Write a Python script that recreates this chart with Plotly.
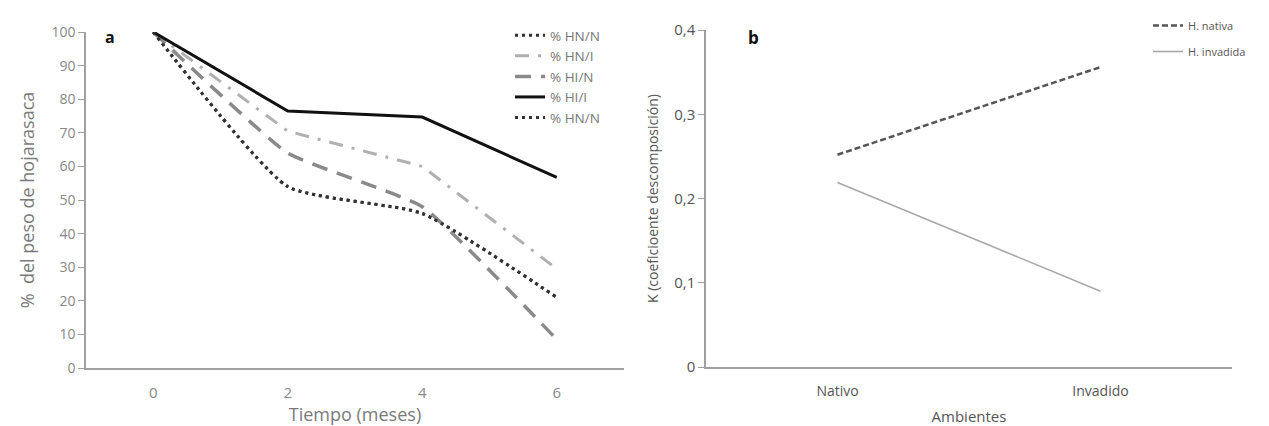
import plotly.graph_objects as go

# ---- data ----
meses = ["0", "2", "4", "6"]
hn_n = [100, 54, 46, 21]
hn_i = [100, 70.5, 60, 29.5]
hi_n = [100, 64, 48, 8.5]
hi_i = [100, 76.5, 74.7, 56.7]
hn_n_dup = [100, 54, 46, 21]

ambientes = ["Nativo", "Invadido"]
k_nativa = [0.252, 0.356]
k_invadida = [0.219, 0.090]

ya_ticks = [0, 10, 20, 30, 40, 50, 60, 70, 80, 90, 100]
yb_tickvals = [0, 0.1, 0.2, 0.3, 0.4]
yb_ticktext = ["0", "0,1", "0,2", "0,3", "0,4"]

FONT = "Open Sans"
W, H = 1269, 426

fig = go.Figure()

# Panel a
fig.add_trace(go.Scatter(x=meses, y=hn_n, name="% HN/N", mode="lines",
                         line=dict(color="#333333", width=3, dash="3px,4px", shape="spline", smoothing=0.5),
                         xaxis="x", yaxis="y", legend="legend"))
fig.add_trace(go.Scatter(x=meses, y=hn_i, name="% HN/I", mode="lines",
                         line=dict(color="#b0b0b0", width=3, dash="14px,9px,3px,9px"),
                         xaxis="x", yaxis="y", legend="legend"))
fig.add_trace(go.Scatter(x=meses, y=hi_n, name="% HI/N", mode="lines",
                         line=dict(color="#8a8a8a", width=3.5, dash="16px,10px", shape="spline", smoothing=0.4),
                         xaxis="x", yaxis="y", legend="legend"))
fig.add_trace(go.Scatter(x=meses, y=hi_i, name="% HI/I", mode="lines",
                         line=dict(color="#111111", width=3),
                         xaxis="x", yaxis="y", legend="legend"))
fig.add_trace(go.Scatter(x=meses, y=hn_n_dup, name="% HN/N", mode="lines",
                         line=dict(color="#333333", width=3, dash="3px,4px", shape="spline", smoothing=0.5),
                         xaxis="x", yaxis="y", legend="legend"))

# Panel b
fig.add_trace(go.Scatter(x=ambientes, y=k_nativa, name="H. nativa", mode="lines",
                         line=dict(color="#555555", width=2.5, dash="6px,3px"),
                         xaxis="x2", yaxis="y2", legend="legend2", legendgroup="n"))
fig.add_trace(go.Scatter(x=ambientes, y=k_invadida, name="H. invadida", mode="lines",
                         line=dict(color="#a8a8a8", width=1.6),
                         xaxis="x2", yaxis="y2", legend="legend2", legendgroup="i"))

axcol = "#a0a0a0"
fig.update_layout(
    width=W, height=H,
    margin=dict(l=0, r=0, t=0, b=0, autoexpand=False),
    paper_bgcolor="white", plot_bgcolor="white",
    font=dict(family=FONT, color="#777777"),
    xaxis=dict(domain=[86 / W, 624 / W], type="category", range=[-0.5, 3.5], automargin=False,
               showline=True, linecolor=axcol, linewidth=1.5, ticks="", showgrid=False,
               tickfont=dict(size=15, color="#888888"), ticklabelstandoff=10,
               title=dict(text="Tiempo (meses)", font=dict(size=18, color="#7a7a7a"), standoff=0),
               anchor="y"),
    yaxis=dict(domain=[1 - 368 / H, 1 - 32 / H], range=[0, 100], tickvals=ya_ticks, automargin=False,
               showline=True, linecolor=axcol, linewidth=1.5, ticks="outside", ticklen=6,
               tickcolor=axcol, showgrid=False, zeroline=False,
               tickfont=dict(size=14, color="#888888"),
               title=dict(text="%  del peso de hojarasaca", font=dict(size=18, color="#7a7a7a"), standoff=12),
               anchor="x"),
    xaxis2=dict(domain=[706 / W, 1232 / W], type="category", range=[-0.5, 1.5], automargin=False,
                showline=True, linecolor=axcol, linewidth=1.5, ticks="", showgrid=False,
                tickfont=dict(size=14, color="#555555"), ticklabelstandoff=10,
                title=dict(text="Ambientes", font=dict(size=15, color="#555555"), standoff=16),
                anchor="y2"),
    yaxis2=dict(domain=[1 - 367 / H, 1 - 30 / H], range=[0, 0.4], tickvals=yb_tickvals,
                ticktext=yb_ticktext, automargin=False,
                showline=True, linecolor=axcol, linewidth=1.5, ticks="outside", ticklen=6,
                tickcolor=axcol, showgrid=False, zeroline=False,
                tickfont=dict(size=15, color="#555555"),
                title=dict(text="K (coeficioente descomposición)", font=dict(size=14, color="#555555"), standoff=12),
                anchor="x2"),
    legend=dict(x=510 / W, y=1 - 20 / H, xanchor="left", yanchor="top",
                font=dict(size=13.5, color="#777777"), bgcolor="rgba(0,0,0,0)",
                itemwidth=30, tracegroupgap=0),
    legend2=dict(x=1148 / W, y=1 - 11 / H, xanchor="left", yanchor="top",
                 font=dict(size=11, color="#555555"), bgcolor="rgba(0,0,0,0)",
                 tracegroupgap=7),
    showlegend=True,
)

fig.add_annotation(text="<b>a</b>", x=110 / W, y=1 - 37 / H, xref="paper", yref="paper",
                   showarrow=False, font=dict(size=16, color="#111111"), xanchor="center", yanchor="middle")
fig.add_annotation(text="<b>b</b>", x=753 / W, y=1 - 38 / H, xref="paper", yref="paper",
                   showarrow=False, font=dict(size=17, color="#111111"), xanchor="center", yanchor="middle")

fig.write_html("out.html", config={"displayModeBar": False},
               post_script="document.body.style.margin='0';document.body.style.overflow='hidden';")
